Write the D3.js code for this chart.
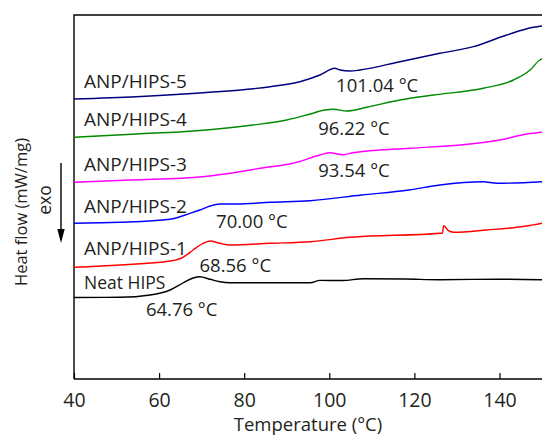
<!DOCTYPE html>
<html>
<head>
<meta charset="utf-8">
<script src="https://cdn.jsdelivr.net/npm/d3@7"></script>
<style>
  body { margin: 0; background: #fff; }
  text { font-family: "Open Sans", sans-serif; fill: #231f20; }
</style>
</head>
<body>
<div class="chart"></div>
<script>
// DSC heating curves, stacked (arbitrary offset units of heat flow)
const seriesNames = ["Neat HIPS", "ANP/HIPS-1", "ANP/HIPS-2", "ANP/HIPS-3", "ANP/HIPS-4", "ANP/HIPS-5"]
const tgLabels = ["64.76 °C", "68.56 °C", "70.00 °C", "93.54 °C", "96.22 °C", "101.04 °C"]
const xTicks = [40, 60, 80, 100, 120, 140]

const neatT  = [40, 50.8, 57.9, 62.6, 65.6, 68.0, 69.6, 72.0, 74.3, 76.7, 95.5, 97.8, 103, 108, 118, 126, 140, 150]
const neatHF = [80.5, 80.7, 83, 88, 95, 100, 101.3, 98.7, 96.3, 95.3, 95.3, 97.6, 97.5, 99.3, 99, 98.3, 98.8, 98.2]

const hips1T  = [40, 50.8, 62.6, 65.6, 68.0, 70.1, 72.0, 74.3, 76.7, 86.1, 95.5, 104.9, 126.0, 126.6, 126.9, 128.0, 129.2, 137.0, 146.4, 150]
const hips1HF = [110.7, 113, 117, 120.7, 128, 134, 137, 134.7, 133, 134.7, 136.3, 140.7, 144.7, 145, 152.3, 147.3, 145.7, 148, 152, 154.7]

const hips2T  = [40, 50.8, 62.6, 67.3, 69.6, 72.0, 74.3, 78.3, 86.1, 95.5, 107.6, 118.7, 126.0, 136.2, 139.4, 150]
const hips2HF = [154.7, 155.7, 158.7, 164.7, 168, 172, 174, 174, 175.7, 177.3, 183, 188, 193, 196.3, 194.7, 196.3]

const hips3T  = [40, 53.2, 70.3, 81.4, 83.7, 91.5, 97.8, 100.2, 103.2, 105.6, 119.0, 130.7, 140, 146.5, 150]
const hips3HF = [195.7, 198, 201.3, 208, 209.7, 214.7, 223, 225.3, 223.3, 225.3, 229.7, 233, 238, 244, 245.7]

const hips4T  = [40, 54.7, 68.8, 82.1, 90.0, 95.5, 99.0, 101.0, 104.1, 108.8, 116.6, 124.5, 136.2, 143.3, 147.2, 149.5, 150]
const hips4HF = [240.7, 244, 247.3, 253, 258, 264, 268, 268.7, 267, 270.7, 278, 283, 289.7, 298, 308, 318, 319]

const hips5T  = [40, 54.7, 70.4, 86.1, 93.1, 97.8, 101.3, 102.5, 104.9, 107.2, 116.6, 126.0, 133.9, 141.7, 148.0, 150]
const hips5HF = [279, 281.3, 285.3, 291.3, 296.3, 303, 309.7, 308, 307, 308, 316.3, 324.7, 331.3, 343, 350.7, 352]

const drawChart = () => {
  const colors = ["#000000", "#ff0000", "#0000ff", "#ff00ff", "#008a00", "#00007f"]

  const dims = {
    width: 542,
    height: 438,
    margin: { top: 15, right: 0, bottom: 59, left: 74 }
  }
  dims.boundedWidth = dims.width - dims.margin.left - dims.margin.right
  dims.boundedHeight = dims.height - dims.margin.top - dims.margin.bottom

  const temps = [neatT, hips1T, hips2T, hips3T, hips4T, hips5T]
  const flows = [neatHF, hips1HF, hips2HF, hips3HF, hips4HF, hips5HF]
  const data = seriesNames.map((name, i) => ({
    name,
    color: colors[i],
    values: temps[i].map((t, j) => ({ t, hf: flows[i][j] }))
  }))

  const xScale = d3.scaleLinear()
    .domain([40, 150])
    .range([0, dims.boundedWidth])

  const yScale = d3.scaleLinear()
    .domain([-1, 363])
    .range([dims.boundedHeight, 0])

  const lineGenerator = d3.line()
    .x(d => xScale(d.t))
    .y(d => yScale(d.hf))
    .curve(d3.curveMonotoneX)

  const svg = d3.select(".chart").append("svg")
      .attr("width", dims.width)
      .attr("height", dims.height)

  const bounds = svg.append("g")
      .attr("transform", `translate(${dims.margin.left},${dims.margin.top})`)

  // frame: top and left edges (right edge falls outside the picture)
  bounds.append("path")
      .attr("d", `M${dims.boundedWidth + 2},0H0V${dims.boundedHeight}`)
      .attr("fill", "none")
      .attr("stroke", "#000")
      .attr("stroke-width", 1.4)

  const xAxis = bounds.append("g")
      .attr("transform", `translate(0,${dims.boundedHeight})`)
      .call(d3.axisBottom(xScale)
        .tickValues(xTicks)
        .tickSizeInner(-6)
        .tickSizeOuter(0)
        .tickPadding(14))
  xAxis.select(".domain").attr("stroke-width", 1.4).attr("d", `M0,0H${dims.boundedWidth + 2}`)
  xAxis.selectAll(".tick line").attr("stroke-width", 1.2)
  xAxis.selectAll(".tick text")
      .attr("font-family", "Open Sans")
      .attr("font-size", 19.5)
      .attr("fill", "#231f20")

  svg.append("text")
      .attr("x", dims.margin.left + dims.boundedWidth / 2)
      .attr("y", 431)
      .attr("text-anchor", "middle")
      .attr("font-size", 18.5)
      .text("Temperature (°C)")

  svg.append("text")
      .attr("transform", "translate(27,212) rotate(-90)")
      .attr("text-anchor", "middle")
      .attr("font-size", 16.5)
      .text("Heat flow (mW/mg)")

  svg.append("text")
      .attr("transform", "translate(51,200) rotate(-90)")
      .attr("text-anchor", "middle")
      .attr("font-size", 17.5)
      .text("exo")

  // exo arrow
  svg.append("line")
      .attr("x1", 61).attr("x2", 61)
      .attr("y1", 163).attr("y2", 232)
      .attr("stroke", "#000")
      .attr("stroke-width", 1.4)
  svg.append("path")
      .attr("d", "M57.3,229L64.7,229L61,243Z")
      .attr("fill", "#000")

  bounds.selectAll(".curve")
    .data(data)
    .join("path")
      .attr("class", "curve")
      .attr("d", d => lineGenerator(d.values))
      .attr("fill", "none")
      .attr("stroke", d => d.color)
      .attr("stroke-width", 1.4)

  // series names sit just above each curve's start
  const nameOffsets = [9, 12, 10, 11.5, 11.5, 11.5]
  bounds.selectAll(".series-label")
    .data(data)
    .join("text")
      .attr("class", "series-label")
      .attr("x", xScale(40) + 10)
      .attr("y", (d, i) => yScale(d.values[0].hf) - nameOffsets[i])
      .attr("font-size", (d, i) => i == 0 ? 17.5 : 19)
      .text(d => d.name)

  // Tg annotations anchored in data units [temperature, heat flow]
  const tgAnchors = [[56.9, 62], [69.5, 106.3], [73.4, 149.7], [97.4, 200.7], [97.4, 243], [101.6, 286.3]]
  bounds.selectAll(".tg-label")
    .data(tgLabels)
    .join("text")
      .attr("class", "tg-label")
      .attr("x", (d, i) => xScale(tgAnchors[i][0]))
      .attr("y", (d, i) => yScale(tgAnchors[i][1]))
      .attr("font-size", 18.5)
      .text(d => d)
}
drawChart()
</script>
</body>
</html>
